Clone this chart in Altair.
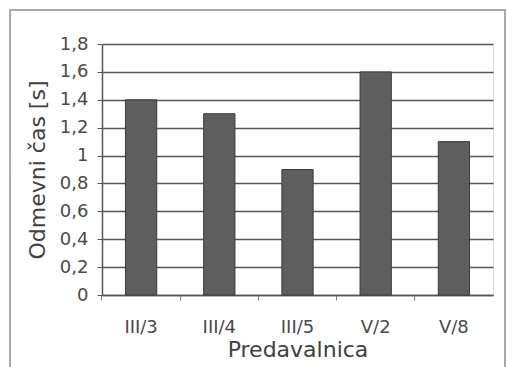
import altair as alt
import pandas as pd

rooms = ["III/3", "III/4", "III/5", "V/2", "V/8"]
times = [1.4, 1.3, 0.9, 1.6, 1.1]
y_ticks = [0, 0.2, 0.4, 0.6, 0.8, 1.0, 1.2, 1.4, 1.6, 1.8]

df = pd.DataFrame({"room": rooms, "time": times})

FONT = "DejaVu Sans"

bars = alt.Chart(df).mark_bar(
    color="#5e5e5e", stroke="#3a3a3a", strokeWidth=1
).encode(
    x=alt.X(
        "room:N",
        sort=rooms,
        title="Predavalnica",
        scale=alt.Scale(paddingInner=0.6, paddingOuter=0.3),
        axis=alt.Axis(
            labelAngle=0,
            bandPosition=-0.75,
            tickSize=5,
            tickColor="#777777",
            domainColor="#555555",
            domainWidth=1.5,
            labelFont=FONT,
            labelFontSize=18,
            labelColor="#4a4a4a",
            labelPadding=18,
            titleFont=FONT,
            titleFontSize=22,
            titleFontWeight="normal",
            titleColor="#404040",
            titlePadding=3,
        ),
    ),
    y=alt.Y(
        "time:Q",
        title="Odmevni čas [s]",
        scale=alt.Scale(domain=[0, 1.8], nice=False),
        axis=alt.Axis(
            values=y_ticks,
            format="~g",
            labelExpr="replace(datum.label, '.', ',')",
            grid=True,
            gridColor="#555555",
            gridWidth=1.5,
            tickSize=5,
            tickColor="#555555",
            domainColor="#555555",
            domainWidth=1.5,
            labelFont=FONT,
            labelFontSize=18,
            labelColor="#4a4a4a",
            labelPadding=9,
            titleFont=FONT,
            titleFontSize=22,
            titleFontWeight="normal",
            titleColor="#404040",
            titlePadding=10,
        ),
    ),
)

frame = alt.Chart(df).mark_rect(
    fill=None, stroke="#aaaaaa", strokeWidth=2
).encode(
    x=alt.value(-92), x2=alt.value(403), y=alt.value(-34), y2=alt.value(420)
)

chart = alt.layer(frame, bars).properties(
    width=391,
    height=251,
    autosize=alt.AutoSizeParams(type="none"),
    padding={"left": 102, "top": 44, "right": 14, "bottom": 72},
).configure_view(
    stroke="#bbbbbb", strokeWidth=1.5
).configure(background="white")

chart.save("out.html", embed_options={"renderer": "svg", "actions": False})
